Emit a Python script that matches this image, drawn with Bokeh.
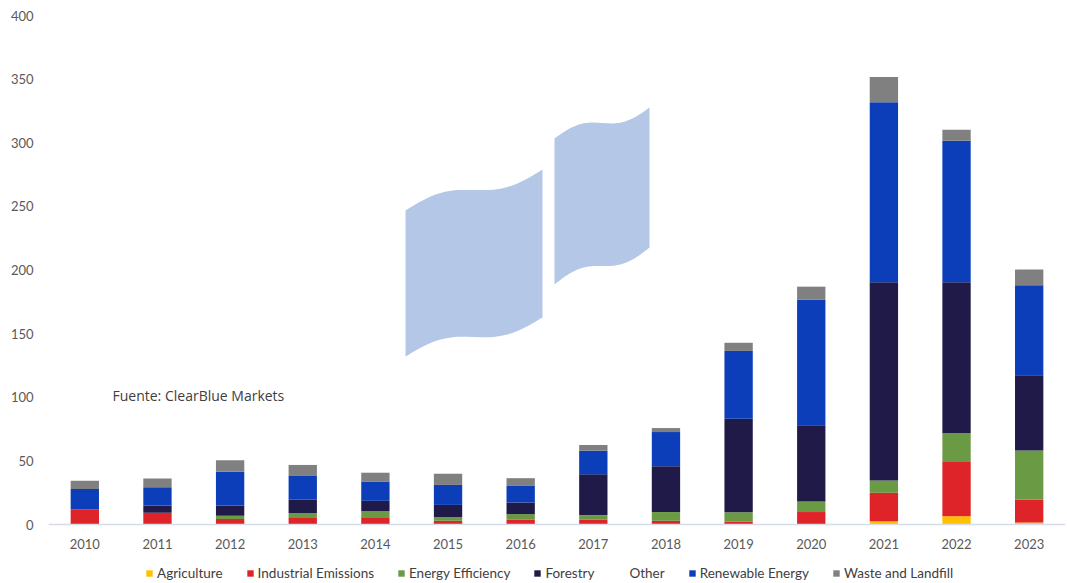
import numpy as np
from bokeh.plotting import figure
from bokeh.models import (ColumnDataSource, Range1d, FactorRange, Legend, LegendItem,
                          Label, FixedTicker)
from bokeh.embed import file_html
from bokeh.resources import INLINE

years = ["2010", "2011", "2012", "2013", "2014", "2015", "2016",
         "2017", "2018", "2019", "2020", "2021", "2022", "2023"]
agriculture = [0, 0, 0, 0, 0, 0, 0, 0, 0, 0, 0, 2.5, 6.5, 1.5]
industrial = [12.0, 9.3, 4.3, 5.1, 5.1, 2.9, 3.7, 3.7, 2.9, 2.4, 9.8, 22.4, 43.2, 18.1]
energy_eff = [0, 0, 2.6, 3.9, 5.5, 3.0, 4.5, 3.7, 6.9, 7.2, 8.3, 9.7, 22.3, 38.5]
forestry = [0, 5.6, 8.0, 10.7, 8.0, 9.5, 9.1, 32.0, 35.9, 73.6, 59.8, 155.7, 118.3, 59.2]
other = [0, 0, 0, 0, 0, 0, 0, 0, 0, 0, 0, 0, 0, 0]
renewable = [15.9, 14.4, 26.6, 18.9, 15.2, 15.7, 13.0, 18.6, 26.9, 53.2, 99.0, 141.6, 111.3, 70.7]
waste = [6.4, 6.9, 9.0, 8.2, 6.9, 8.8, 6.1, 4.5, 3.2, 6.4, 10.0, 19.7, 8.6, 12.3]

series_names = ["Agriculture", "Industrial Emissions", "Energy Efficiency", "Forestry",
                "Other", "Renewable Energy", "Waste and Landfill"]
series_colors = ["#FFC000", "#DE2428", "#6B9A45", "#201A48", "#FFFFFF", "#0B3EB8", "#808080"]
y_ticks = [0, 50, 100, 150, 200, 250, 300, 350, 400]

keys = ["agri", "ind", "ee", "forest", "other", "ren", "waste"]
source = ColumnDataSource(dict(year=years, agri=agriculture, ind=industrial, ee=energy_eff,
                               forest=forestry, other=other, ren=renewable, waste=waste))

# page-pixel geometry (figure sits at x=1, y=1)
FRAME_L, FRAME_R, TOP_PX, ZERO_PX, FIG_B = 49, 1066, 16, 525, 583
PX_PER_UNIT = (ZERO_PX - TOP_PX) / 400.0
y_start = -(FIG_B - ZERO_PX) / PX_PER_UNIT   # frame extends below zero to hold labels + legend

p = figure(width=1066, height=582, x_range=FactorRange(*years),
           y_range=Range1d(y_start, 400),
           output_backend="svg", toolbar_location=None,
           min_border_left=48, min_border_right=1, min_border_top=15, min_border_bottom=0)
p.background_fill_color = "white"
p.border_fill_color = "white"
p.outline_line_color = None
p.xgrid.grid_line_color = None
p.ygrid.grid_line_color = None


# decoration helpers: page pixels -> synthetic categorical x / data y
def sx(xpx):
    return (np.asarray(xpx, dtype=float) - FRAME_L) / ((FRAME_R - FRAME_L) / len(years))


def sy(ypx):
    return (ZERO_PX - np.asarray(ypx, dtype=float)) / PX_PER_UNIT


def flag(x0, x1, top0, top1, bot0, bot1, amp):
    t = np.linspace(0, 1, 40)
    xs = x0 + (x1 - x0) * t
    top = top0 + (top1 - top0) * t - amp * np.sin(2 * np.pi * t)
    bot = bot0 + (bot1 - bot0) * t - amp * np.sin(2 * np.pi * t)
    return list(sx(list(xs) + list(xs[::-1]))), list(sy(list(top) + list(bot[::-1])))


fx1, fy1 = flag(406, 543, 211, 170, 357, 318, 7)
fx2, fy2 = flag(555, 650, 139, 108, 285, 248, 6)
p.patches([fx1, fx2], [fy1, fy2], fill_color="#B4C7E7", line_color=None)

renderers = p.vbar_stack(keys, x="year", width=0.39, color=series_colors, source=source,
                         line_color=None)

items = [LegendItem(label=n, renderers=[r]) for n, r in zip(series_names, renderers)]
legend = Legend(items=items, orientation="horizontal", location=(146 - FRAME_L, 1),
                glyph_width=8, glyph_height=8, label_standoff=4, spacing=23,
                label_height=14, padding=0, margin=0, border_line_color=None,
                label_text_font="Lato", label_text_font_size="13.5px",
                label_text_color="#404040", background_fill_alpha=0)
p.add_layout(legend, "center")

p.add_layout(Label(x=float(sx(113)), y=float(sy(396)),
                   text="Fuente: ClearBlue Markets", text_font="Open Sans",
                   text_font_size="14px", text_color="#404040",
                   text_baseline="middle", text_align="left"))

p.yaxis.ticker = FixedTicker(ticks=y_ticks)
p.yaxis.axis_line_color = None
p.yaxis.major_tick_line_color = None
p.yaxis.minor_tick_line_color = None
p.yaxis.major_label_standoff = 9
p.yaxis.major_label_text_font = "Lato"
p.yaxis.major_label_text_font_size = "13px"
p.yaxis.major_label_text_color = "#595959"

p.xaxis.fixed_location = 0
p.xaxis.axis_line_color = "#D6DCE8"
p.xaxis.axis_line_width = 1.5
p.xaxis.major_tick_line_color = None
p.xaxis.minor_tick_line_color = None
p.xaxis.major_label_standoff = 8
p.xaxis.major_label_text_font = "Lato"
p.xaxis.major_label_text_font_size = "13px"
p.xaxis.major_label_text_color = "#595959"

open("out.html", "w").write(file_html(p, INLINE))
